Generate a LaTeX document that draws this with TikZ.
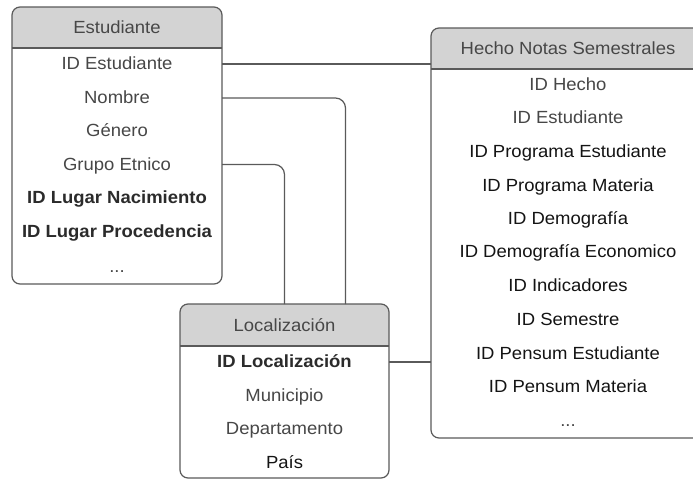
\documentclass[tikz,border=0pt]{standalone}
\usepackage{fontspec}
\setmainfont{Liberation Sans}[FakeStretch=1.05]
\definecolor{linec}{HTML}{5A5A5A}
\definecolor{headfill}{HTML}{D3D3D3}
\definecolor{graytxt}{HTML}{474747}
\definecolor{blacktxt}{HTML}{141414}
\definecolor{boldtxt}{HTML}{2B2B2B}
\begin{document}
\begin{tikzpicture}[x=1pt,y=-1pt,
  tbl/.style={minimum width=#1, inner sep=0pt, draw=none},
  frame/.style={draw=linec, line width=1.2pt, rounded corners=8pt},
  sep/.style={draw=linec, line width=1.1pt},
  conn/.style={draw=linec, line width=1.2pt, rounded corners=10pt},
  txt/.style={font=\fontsize{17.6}{20}\selectfont, text=graytxt, inner sep=0pt, anchor=base},
  blk/.style={txt, text=blacktxt},
  bld/.style={txt, text=boldtxt, font=\fontsize{17.6}{20}\selectfont\bfseries}]
\useasboundingbox (0,0) rectangle (693,479);
\fill[white] (0,0) rectangle (693,479);

% ---------- Estudiante ----------
\coordinate (esnw) at (12,7);
\coordinate (esse) at (222,284);
\begin{scope}
  \clip (12,0) rectangle (222,48);
  \fill[headfill, rounded corners=8pt] (esnw) rectangle (esse);
\end{scope}
\draw[frame] (esnw) rectangle (esse);
\draw[sep] (12,48) -- (222,48);
\node[txt] (esh) at (117,33) {Estudiante};
\node[txt] (es1) at (117,69) {ID Estudiante};
\node[txt] (es2) at (117,103) {Nombre};
\node[txt] (es3) at (117,136) {Género};
\node[txt] (es4) at (117,170) {Grupo Etnico};
\node[bld] (es5) at (117,203) {ID Lugar Nacimiento};
\node[bld] (es6) at (117,237) {ID Lugar Procedencia};
\node[txt] (es7) at (117,272) {...};

% ---------- Hecho Notas Semestrales ----------
\coordinate (hnw) at (431,28);
\coordinate (hse) at (705,438);
\begin{scope}
  \clip (431,20) rectangle (710,69);
  \fill[headfill, rounded corners=8pt] (hnw) rectangle (hse);
\end{scope}
\draw[frame] (hnw) rectangle (hse);
\draw[sep] (431,69) -- (705,69);
\node[txt] (hh) at (568,54) {Hecho Notas Semestrales};
\node[txt] (h1) at (568,90) {ID Hecho};
\node[txt] (h2) at (568,123) {ID Estudiante};
\node[blk] (h3) at (568,157) {ID Programa Estudiante};
\node[blk] (h4) at (568,191) {ID Programa Materia};
\node[blk] (h5) at (568,224) {ID Demografía};
\node[blk] (h6) at (568,257) {ID Demografía Economico};
\node[blk] (h7) at (568,291) {ID Indicadores};
\node[blk] (h8) at (568,325) {ID Semestre};
\node[blk] (h9) at (568,359) {ID Pensum Estudiante};
\node[blk] (h10) at (568,392) {ID Pensum Materia};
\node[txt] (h11) at (568,426) {...};

% ---------- Localizacion ----------
\coordinate (lnw) at (180,304);
\coordinate (lse) at (389,478);
\begin{scope}
  \clip (180,300) rectangle (389,346);
  \fill[headfill, rounded corners=8pt] (lnw) rectangle (lse);
\end{scope}
\draw[frame] (lnw) rectangle (lse);
\draw[sep] (180,346) -- (389,346);
\node[txt] (lh) at (284.5,331) {Localización};
\node[bld] (l1) at (284.5,367) {ID Localización};
\node[txt] (l2) at (284.5,401) {Municipio};
\node[txt] (l3) at (284.5,434) {Departamento};
\node[blk] (l4) at (284.5,468) {País};

% ---------- connectors ----------
\coordinate (c1a) at (222,64);
\coordinate (c1b) at (431,64);
\draw[conn] (c1a) -- (c1b);
\coordinate (c2a) at (222,98);
\coordinate (c2b) at (345.5,304);
\draw[conn] (c2a) -| (c2b);
\coordinate (c3a) at (222,164.5);
\coordinate (c3b) at (284.5,304);
\draw[conn] (c3a) -| (c3b);
\coordinate (c4a) at (389,362);
\coordinate (c4b) at (431,362);
\draw[conn] (c4a) -- (c4b);
\end{tikzpicture}
\end{document}
